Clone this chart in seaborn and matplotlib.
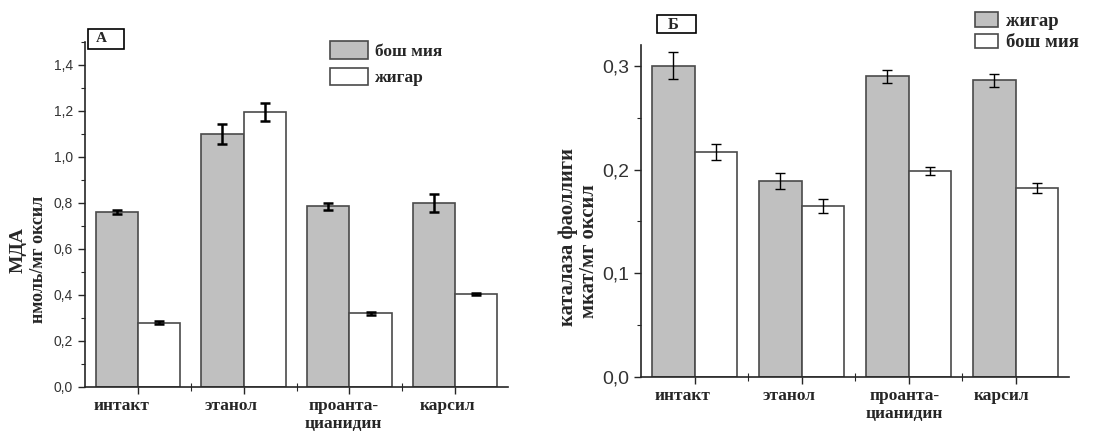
import numpy as np
import pandas as pd
import matplotlib
matplotlib.use("Agg")
import matplotlib.pyplot as plt
import matplotlib.transforms as mtransforms
from matplotlib.patches import Patch, Rectangle
from matplotlib.ticker import MultipleLocator, FixedLocator
import seaborn as sns

# Data
groups = ['интакт', 'этанол', 'проанта-\nцианидин', 'карсил']

# Panel A: MDA
mda_brain = [0.762, 1.100, 0.785, 0.800]
mda_brain_err = [0.008, 0.042, 0.015, 0.040]
mda_liver = [0.280, 1.195, 0.320, 0.405]
mda_liver_err = [0.005, 0.040, 0.005, 0.005]

# Panel B: catalase
cat_liver = [0.300, 0.189, 0.290, 0.286]
cat_liver_err = [0.013, 0.008, 0.006, 0.006]
cat_brain = [0.217, 0.165, 0.199, 0.182]
cat_brain_err = [0.008, 0.007, 0.004, 0.005]

GRAY = '#c0c0c0'
EDGE = '#4a4a4a'
SERIF = ['Liberation Serif', 'DejaVu Serif']
SANS = ['Liberation Sans', 'DejaVu Sans']

sns.set_style('ticks')
plt.rcParams['font.family'] = SANS


def make_df(gray_name, gray_vals, white_name, white_vals):
    return pd.DataFrame({
        'group': groups * 2,
        'series': [gray_name] * 4 + [white_name] * 4,
        'value': list(gray_vals) + list(white_vals),
    })


def draw_panel(ax, df, order, errs, ymax, ytick_step, ymin_step, err_lw, tick_size, shifts):
    sns.barplot(data=df, x='group', y='value', hue='series', hue_order=order,
                palette=[GRAY, 'white'], width=0.8, errorbar=None,
                edgecolor=EDGE, linewidth=1.2, legend=False, ax=ax)
    # error bars on the bar tops
    for cont, err in zip(ax.containers, errs):
        xs = [p.get_x() + p.get_width() / 2 for p in cont.patches]
        ys = [p.get_height() for p in cont.patches]
        ax.errorbar(xs, ys, yerr=err, fmt='none', ecolor='black',
                    elinewidth=err_lw, capsize=3.5, capthick=err_lw, zorder=5)
    ax.set_xlim(-0.5, 3.5)
    ax.set_ylim(0, ymax)
    ax.yaxis.set_major_locator(MultipleLocator(ytick_step))
    ax.yaxis.set_minor_locator(MultipleLocator(ymin_step))
    ax.yaxis.set_major_formatter(plt.FuncFormatter(lambda v, p: '{:.1f}'.format(v).replace('.', ',')))
    ax.xaxis.set_minor_locator(FixedLocator([0.5, 1.5, 2.5]))
    ax.tick_params(axis='y', which='major', direction='out', length=5, width=1,
                   labelsize=tick_size, labelcolor='#333333')
    ax.tick_params(axis='y', which='minor', direction='out', length=3, width=0.8)
    ax.tick_params(axis='x', which='major', direction='out', length=5, width=1, pad=3)
    ax.tick_params(axis='x', which='minor', direction='inout', length=6, width=0.8)
    ax.set_xlabel('')
    ax.set_ylabel('')
    sns.despine(ax=ax)
    for s in ['left', 'bottom']:
        ax.spines[s].set_linewidth(1.2)
    # bold serif category labels, shifted a bit left like the original
    ax.set_xticks(range(4))
    ax.set_xticklabels(groups, fontfamily=SERIF, fontweight='bold', fontsize=12.5,
                       linespacing=1.15, va='top')
    for lab, dx in zip(ax.get_xticklabels(), shifts):
        shift = mtransforms.ScaledTranslation(-dx / 100, 0, ax.figure.dpi_scale_trans)
        lab.set_transform(lab.get_transform() + shift)


fig = plt.figure(figsize=(11.17, 4.32), dpi=100)
axA = fig.add_axes([0.0761, 0.1042, 0.3787, 0.7986])
axB = fig.add_axes([0.5739, 0.1273, 0.3832, 0.7680])

dfA = make_df('бош мия', mda_brain, 'жигар', mda_liver)
draw_panel(axA, dfA, ['бош мия', 'жигар'], [mda_brain_err, mda_liver_err],
           1.5, 0.2, 0.1, 1.8, 10, [16, 13, 6, 8])

dfB = make_df('жигар', cat_liver, 'бош мия', cat_brain)
draw_panel(axB, dfB, ['жигар', 'бош мия'], [cat_liver_err, cat_brain_err],
           0.32, 0.1, 0.05, 1.0, 14, [12, 12, 4, 14])

# y labels (two lines, bold serif)
fig.text(0.0165, 0.421, 'МДА', rotation=90, ha='center', va='center',
         family=SERIF, fontweight='bold', fontsize=14)
fig.text(0.0345, 0.40, 'нмоль/мг оксил', rotation=90, ha='center', va='center',
         family=SERIF, fontweight='bold', fontsize=13)
fig.text(0.5085, 0.451, 'каталаза фаоллиги', rotation=90, ha='center', va='center',
         family=SERIF, fontweight='bold', fontsize=14.8)
fig.text(0.5275, 0.419, 'мкат/мг оксил', rotation=90, ha='center', va='center',
         family=SERIF, fontweight='bold', fontsize=14.8)

# panel letters in boxes
fig.patches.append(Rectangle((88 / 1117, 1 - 49 / 432), 36 / 1117, 20 / 432,
                             transform=fig.transFigure, fc='white', ec='black', lw=1.2))
fig.text(101 / 1117, 1 - 39 / 432, 'А', ha='center', va='center', family=SERIF,
         fontweight='bold', fontsize=11)
fig.patches.append(Rectangle((657 / 1117, 1 - 33 / 432), 39 / 1117, 18 / 432,
                             transform=fig.transFigure, fc='white', ec='black', lw=1.2))
fig.text(673 / 1117, 1 - 25 / 432, 'Б', ha='center', va='center', family=SERIF,
         fontweight='bold', fontsize=12)

# legends
hA = [Patch(fc=GRAY, ec=EDGE, lw=1.2, label='бош мия'),
      Patch(fc='white', ec=EDGE, lw=1.2, label='жигар')]
fig.legend(handles=hA, loc='upper left', bbox_to_anchor=(330 / 1117, 1 - 41 / 432),
           frameon=False, borderpad=0, borderaxespad=0,
           handlelength=2.2, handleheight=1.2, handletextpad=0.4, labelspacing=0.45,
           prop=dict(family=SERIF, weight='bold', size=12.5))
hB = [Patch(fc=GRAY, ec=EDGE, lw=1.2, label='жигар'),
      Patch(fc='white', ec=EDGE, lw=1.2, label='бош мия')]
axB.legend(handles=hB, loc='upper left', bbox_to_anchor=(0.74, 1.15), frameon=False,
           handlelength=1.25, handleheight=0.8, handletextpad=0.4, labelspacing=0.2,
           prop=dict(family=SERIF, weight='bold', size=13.5))

fig.savefig('out.png', dpi=100)
